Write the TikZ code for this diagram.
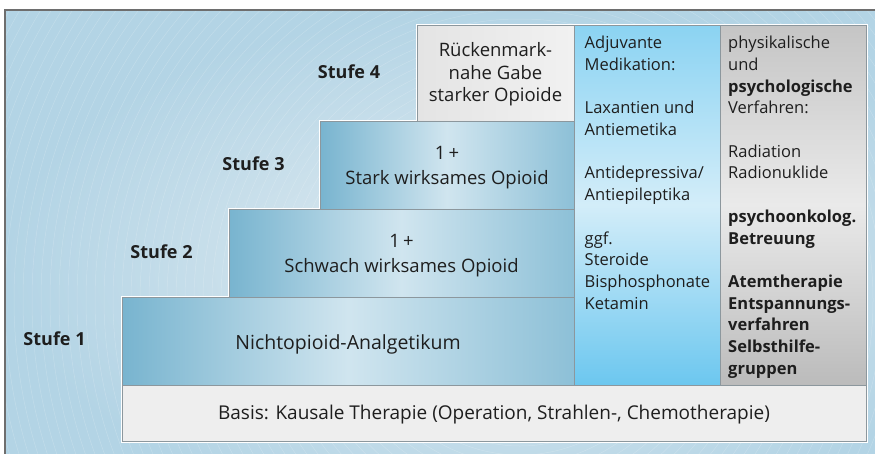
\documentclass[tikz,border=0pt]{standalone}
\usepackage{fontspec}
\setmainfont{Open Sans}
\pgfdeclarelayer{bg}
\pgfdeclarelayer{halo}
\pgfsetlayers{bg,halo,main}
\definecolor{bgOut}{HTML}{B3D4E5}
\definecolor{bgIn}{HTML}{E4EDF2}
\definecolor{frameC}{HTML}{6E6E6E}
\definecolor{boxLine}{HTML}{8C979D}
\definecolor{stepL}{HTML}{78B4CF}
\definecolor{stepM}{HTML}{D0E5EF}
\definecolor{stepR}{HTML}{8DC0D7}
\definecolor{grayBoxA}{HTML}{E4E4E4}
\definecolor{grayBoxB}{HTML}{F1F1F1}
\definecolor{cyanT}{HTML}{8BD3F2}
\definecolor{cyanM}{HTML}{D3EDF9}
\definecolor{cyanB}{HTML}{6CC7EF}
\definecolor{greyT}{HTML}{C5C5C5}
\definecolor{greyM}{HTML}{EAEAEA}
\definecolor{greyB}{HTML}{BBBBBB}
\definecolor{basisC}{HTML}{EEEEEE}
\definecolor{textC}{HTML}{1E1E1E}
\begin{document}
\begin{tikzpicture}[x=1pt,y=-1pt,
  box/.style={draw=boxLine, line width=0.8pt, inner sep=0pt, outer sep=0pt, anchor=north west},
  stepbox/.style={box, left color=stepL, right color=stepR, middle color=stepM},
  boxtext/.style={inner sep=0pt, align=center, text=textC, font=\fontsize{19}{23}\selectfont},
  coltext/.style={inner sep=0pt, anchor=north west, align=left, text=textC, font=\fontsize{16.5}{21.7}\selectfont},
  stufe/.style={inner sep=0pt, text=textC, font=\fontsize{18}{22}\selectfont\bfseries},
  haloline/.style={draw=white, line width=3pt}
]
\useasboundingbox (0,0) rectangle (875,453);
\begin{pgfonlayer}{bg}
  \fill[white] (0,0) rectangle (875,453);
  \shade[inner color=bgIn, outer color=bgOut] (5,10) rectangle (1000,520);
  \begin{scope}
    \clip (5,10) rectangle (875,453);
    \foreach \r in {20,29,...,760} {
      \draw[white, opacity=0.2, line width=0.5pt] (520,300) circle[radius=\r];
    }
  \end{scope}
  \draw[frameC, line width=1.5pt] (5,10) rectangle (890,470);
\end{pgfonlayer}

% boxes
\node[box, minimum width=157pt, minimum height=96pt, left color=grayBoxA, right color=grayBoxB] (s4) at (417,25) {};
\node[stepbox, minimum width=254pt, minimum height=88pt] (s3) at (320,121) {};
\node[stepbox, minimum width=345pt, minimum height=88pt] (s2) at (229,209) {};
\node[stepbox, minimum width=452pt, minimum height=88pt] (s1) at (122,297) {};
\node[box, minimum width=146pt, minimum height=360pt, top color=cyanT, bottom color=cyanB, middle color=cyanM] (adj) at (574,25) {};
\node[box, minimum width=146pt, minimum height=360pt, top color=greyT, bottom color=greyB, middle color=greyM] (phys) at (720,25) {};
\node[box, minimum width=744pt, minimum height=56pt, fill=basisC] (basis) at (122,385) {};

\begin{pgfonlayer}{halo}
  \foreach \n in {s4,s3,s2,s1,adj,phys,basis} {
    \draw[haloline] (\n.north west) rectangle (\n.south east);
  }
\end{pgfonlayer}

% box texts
\node[boxtext, font=\fontsize{18.5}{22.5}\selectfont] (t4) at (495.5,74.5) {Rückenmark-\\nahe Gabe\\starker Opioide};
\node[boxtext, font=\fontsize{18.5}{25}\selectfont] (t3) at (447,168) {1\,+\\Stark wirksames Opioid};
\node[boxtext, font=\fontsize{18.5}{25}\selectfont] (t2) at (401.5,256) {1\,+\\Schwach wirksames Opioid};
\node[boxtext, font=\fontsize{19.5}{23}\selectfont] (t1) at (348,344.5) {Nichtopioid-Analgetikum};
\node[boxtext] (tb) at (494,415) {Basis: Kausale Therapie (Operation, Strahlen-, Chemotherapie)};

% column texts
\node[coltext] (tadj) at (584.5,36) {Adjuvante\\Medikation:\\[21.7pt]Laxantien und\\Antiemetika\\[21.7pt]Antidepressiva/\\Antiepileptika\\[21.7pt]ggf.\\Steroide\\Bisphosphonate\\Ketamin};
\node[coltext] (tphys) at (728,36) {physikalische\\und\\\textbf{psychologische}\\Verfahren:\\[21.7pt]Radiation\\Radionuklide\\[21.7pt]\textbf{psychoonkolog.}\\\textbf{Betreuung}\\[21.7pt]\textbf{Atemtherapie}\\\textbf{Entspannungs-}\\\textbf{verfahren}\\\textbf{Selbsthilfe-}\\\textbf{gruppen}};

% Stufe labels
\node[stufe] (l4) at (349,72) {Stufe 4};
\node[stufe] (l3) at (253.5,163.5) {Stufe 3};
\node[stufe] (l2) at (161.5,251.5) {Stufe 2};
\node[stufe] (l1) at (54.5,338.5) {Stufe 1};
\end{tikzpicture}
\end{document}
